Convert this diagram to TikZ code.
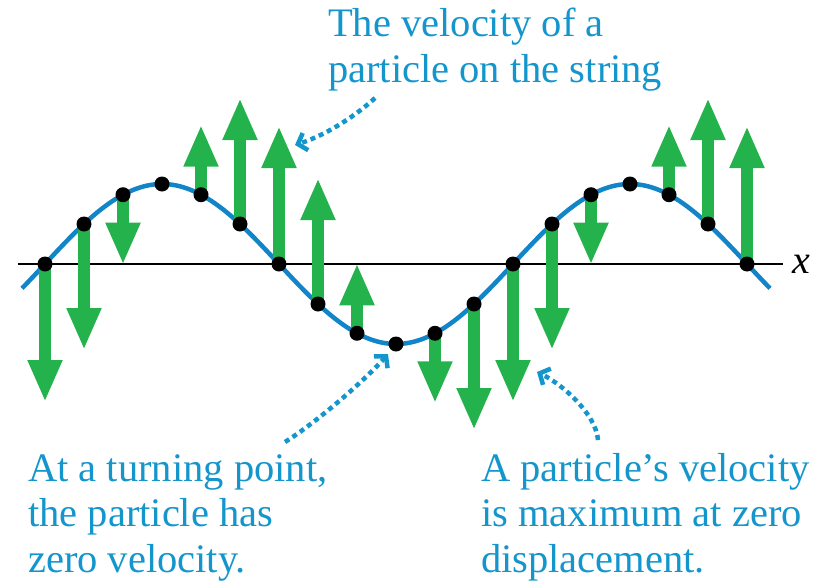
\documentclass[tikz,border=0pt]{standalone}
\usepackage{fontspec}
\setmainfont{Liberation Serif}
\usetikzlibrary{arrows.meta}

\definecolor{wavecol}{RGB}{18,132,200}
\definecolor{notecol}{RGB}{20,150,205}
\definecolor{velcol}{RGB}{36,178,76}

\begin{document}
\begin{tikzpicture}[x=1pt, y=1pt, line cap=round, line join=round,
	velo/.style={draw=velcol, line width=12pt, line cap=butt, -{Triangle[width=32pt,length=42pt]}},
	pin/.style={draw=notecol, line width=4.5pt, line cap=butt, dash pattern=on 5pt off 4pt, -{Straight Barb[length=8pt,width=18pt]}},
	note/.style={text=notecol, font=\fontsize{40.5}{45.5}\selectfont, align=left, inner sep=0pt, anchor=base west},
	dot/.style={circle, fill=black, inner sep=0pt, minimum size=15pt}]
	
	\useasboundingbox (-45,-318) rectangle (772,264);
	
	% x axis
	\coordinate (xstart) at (-27,0);
	\coordinate (xend) at (738,0);
	\draw[line width=2pt, line cap=butt] (xstart) -- (xend);
	\node (xlabel) [anchor=base west, inner sep=0pt, font=\fontsize{40}{45.5}\selectfont\itshape] at (747,-9) {x};
	
	% the string, wavelength 468
	\draw[wavecol, line width=4.5pt, line cap=butt]
	plot[domain=-23:725, samples=200, smooth] (\x, {80*sin(\x/1.3)});
	
	% particles, one every 30 degrees
	\foreach \k in {0,...,18}
	\coordinate (p\k) at (\k*39, {80*sin(\k*30)});
	
	% velocity arrows
	\foreach \k/\v in {0/-138,1/-126,2/-70,4/70,5/126,6/138,7/126,8/70,
		10/-70,11/-126,12/-138,13/-126,14/-70,16/70,17/126,18/138}
	\draw[velo] (p\k) -- ++(0,\v);
	
	\foreach \k in {0,...,18}
	\node[dot] (d\k) at (p\k) {};
	
	% Labels (anchored at the last line)
	\node[note] (top) at (283,182) {The velocity of a\\particle on the string};
	\node[note] (turn) at (-17,-308) {At a turning point,\\the particle has\\zero velocity.};
	\node[note] (vmax) at (436,-308) {A particle’s velocity\\is maximum at zero\\displacement.};
	
	% pointers
	\coordinate (topfoot) at (330,166);
	\coordinate (tipA) at (250,119);
	\coordinate (turnfoot) at (240,-178);
	\coordinate (tipB) at (343,-90);
	\coordinate (vmaxfoot) at (553,-176);
	\coordinate (tipC) at (492,-108);
	\draw[pin] (topfoot) .. controls (314,151) and (284,130) .. (tipA);
	\draw[pin] (turnfoot) .. controls (275,-156) and (323,-113) .. (tipB);
	\draw[pin] (vmaxfoot) .. controls (551,-150) and (517,-120) .. (tipC);
	
\end{tikzpicture}
\end{document}
